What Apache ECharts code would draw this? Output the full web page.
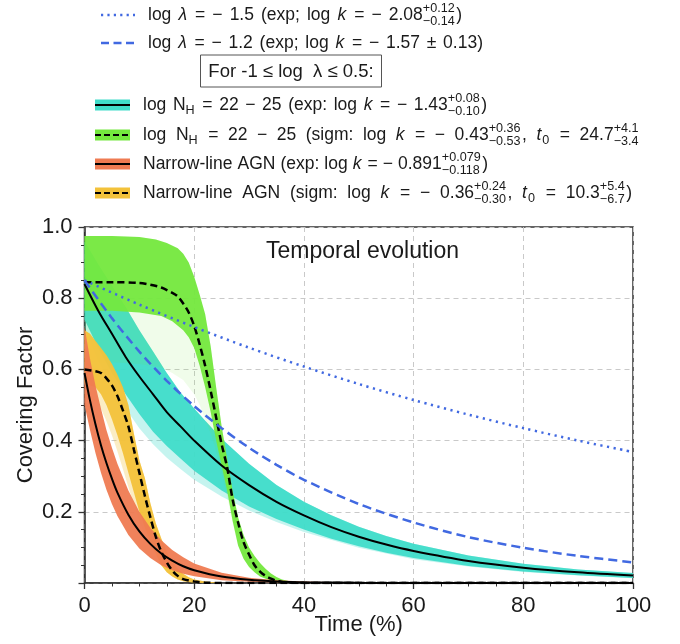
<!DOCTYPE html>
<html><head><meta charset="utf-8">
<script src="https://cdn.jsdelivr.net/npm/echarts@6/dist/echarts.min.js"></script>
<style>html,body{margin:0;padding:0;background:#fff}#c{width:680px;height:644px}</style>
</head><body><div id="c"></div>
<script>
// ---------- data (t in %, covering factor) ----------
const xTicks = [0, 20, 40, 60, 80, 100];
const yTicks = [0.2, 0.4, 0.6, 0.8, 1.0];

const blueDotted = [[0,0.85],[10,0.782],[20,0.719],[30,0.661],[40,0.608],[50,0.559],[60,0.514],[70,0.473],[80,0.435],[90,0.400],[100,0.368]];
const blueDashed = [[0,0.85],[5,0.744],[10,0.65],[15,0.568],[20,0.497],[25,0.435],[30,0.38],[35,0.332],[40,0.29],[50,0.222],[60,0.17],[70,0.129],[80,0.099],[90,0.076],[100,0.058]];

const cyanUpper = [[0,0.96],[2.5,0.895],[5,0.835],[7.5,0.775],[10,0.71],[12.5,0.65],[15,0.59],[17.5,0.535],[20,0.49],[25,0.405],[30,0.335],[35,0.275],[40,0.228],[45,0.19],[50,0.158],[55,0.132],[60,0.11],[70,0.077],[80,0.054],[90,0.038],[100,0.028]];
const cyanLower = [[0,0.74],[2.5,0.66],[5,0.59],[7.5,0.53],[10,0.475],[12.5,0.425],[15,0.385],[17.5,0.35],[20,0.315],[25,0.26],[30,0.215],[35,0.18],[40,0.15],[45,0.124],[50,0.103],[55,0.085],[60,0.07],[70,0.048],[80,0.032],[90,0.022],[100,0.014]];
const cyanFaintLower = [[0,0.72],[2.5,0.625],[5,0.55],[7.5,0.49],[10,0.435],[12.5,0.39],[15,0.352],[17.5,0.32],[20,0.29],[25,0.243],[30,0.204],[35,0.171],[40,0.143],[50,0.099],[60,0.067],[70,0.046],[80,0.031],[90,0.021],[100,0.013]];
const cyanFit = [[0,0.84],[2.5,0.765],[5,0.70],[7.5,0.635],[10,0.58],[12.5,0.53],[15,0.48],[17.5,0.44],[20,0.40],[25,0.33],[30,0.275],[35,0.228],[40,0.19],[45,0.157],[50,0.13],[55,0.108],[60,0.09],[70,0.062],[80,0.043],[90,0.03],[100,0.021]];

const greenUpper = [[0,0.975],[5,0.975],[10,0.972],[13,0.965],[15,0.955],[17,0.94],[18,0.925],[19,0.9],[20,0.86],[21,0.81],[22,0.755],[23,0.665],[24,0.55],[25,0.44],[26,0.35],[27,0.26],[28,0.185],[29,0.135],[30,0.1],[31,0.076],[32,0.056],[33,0.04],[34,0.027],[35,0.017],[36,0.01],[38,0.003],[40,0]];
const greenLower = [[0,0.765],[5,0.765],[10,0.76],[14,0.75],[16,0.735],[18,0.71],[19,0.69],[20,0.66],[21,0.61],[22,0.55],[23,0.48],[24,0.40],[25,0.33],[26,0.26],[27,0.175],[28,0.105],[29,0.068],[30,0.045],[31,0.03],[32,0.018],[34,0.006],[36,0]];
const greenFaintLower = [[0,0.62],[5,0.62],[10,0.615],[14,0.605],[16,0.59],[18,0.57],[20,0.53],[21,0.5],[22,0.46],[23,0.42],[24,0.37],[25,0.31],[26,0.245],[27,0.17],[28,0.105],[29,0.068],[30,0.045],[31,0.03],[32,0.018],[34,0.006],[36,0]];
const greenFit = [[0,0.845],[5,0.845],[10,0.843],[12,0.838],[14,0.83],[16,0.815],[17,0.805],[18,0.785],[19,0.76],[20,0.722],[21,0.67],[22,0.61],[23,0.54],[24,0.465],[25,0.39],[26,0.325],[27,0.235],[28,0.17],[29,0.115],[30,0.08],[31,0.05],[32,0.032],[33,0.02],[34,0.012],[35,0.006],[36,0.003],[38,0.001],[40,0],[100,0]];

const orangeUpper = [[0,0.72],[1,0.63],[2,0.555],[3,0.49],[4,0.43],[5,0.38],[6,0.335],[8,0.26],[10,0.2],[12,0.155],[14,0.12],[16,0.093],[18,0.072],[20,0.055],[25,0.029],[30,0.015],[35,0.008],[40,0.004],[50,0.001],[60,0]];
const orangeLower = [[0,0.50],[1,0.43],[2,0.365],[3,0.31],[4,0.262],[5,0.222],[6,0.188],[8,0.135],[10,0.097],[12,0.07],[14,0.05],[16,0.036],[18,0.026],[20,0.019],[25,0.008],[30,0.0035],[35,0.0015],[40,0.0007],[50,0],[60,0]];
const orangeFit = [[0,0.59],[1,0.513],[2,0.446],[3,0.387],[4,0.337],[5,0.293],[6,0.254],[8,0.192],[10,0.145],[12,0.11],[14,0.083],[16,0.063],[18,0.047],[20,0.036],[25,0.018],[30,0.009],[35,0.0044],[40,0.0022],[50,0.0005],[60,0],[100,0]];

const yellowUpper = [[0,0.71],[1,0.70],[2,0.68],[3,0.66],[4,0.64],[5,0.615],[6,0.585],[7,0.55],[8,0.50],[9,0.42],[10,0.345],[11,0.295],[12,0.225],[13,0.168],[14,0.125],[15,0.088],[16,0.06],[17,0.04],[18,0.026],[19,0.016],[20,0.01],[22,0.004],[25,0]];
const yellowLower = [[0,0.56],[1,0.555],[2,0.55],[3,0.53],[4,0.5],[5,0.46],[6,0.415],[7,0.365],[8,0.31],[9,0.255],[10,0.2],[11,0.155],[12,0.115],[13,0.082],[14,0.05],[15,0.03],[16,0.018],[17,0.01],[18,0.005],[20,0.001],[22,0],[25,0]];
const yellowFaintLower = [[0,0.52],[1,0.515],[2,0.51],[3,0.49],[4,0.455],[5,0.415],[6,0.37],[7,0.32],[8,0.27],[9,0.22],[10,0.17],[11,0.135],[12,0.105],[13,0.078],[14,0.05],[15,0.03],[16,0.018],[17,0.01],[18,0.005],[20,0.001],[22,0],[25,0]];
const yellowFit = [[0,0.60],[2,0.595],[3,0.59],[4,0.575],[5,0.555],[6,0.525],[7,0.485],[8,0.44],[9,0.375],[10,0.31],[11,0.245],[12,0.185],[13,0.13],[14,0.088],[15,0.058],[16,0.035],[17,0.02],[18,0.011],[20,0.004],[22,0.001],[25,0],[100,0]];

// ---------- legend text ----------
const legendRows = [
  ['log ', {i:'λ'}, ' = − 1.5 (exp; log ', {i:'k'}, ' = − 2.08', {ss:['+0.12','−0.14']}, ')'],
  ['log ', {i:'λ'}, ' = − 1.2 (exp; log ', {i:'k'}, ' = − 1.57 ± 0.13)'],
  ['log N', {sub:'H'}, ' = 22 − 25 (exp: log ', {i:'k'}, ' = − 1.43', {ss:['+0.08','−0.10']}, ')'],
  ['log N', {sub:'H'}, ' = 22 − 25 (sigm: log ', {i:'k'}, ' = − 0.43', {ss:['+0.36','−0.53']}, ', ', {i:'t'}, {sub:'0'}, ' = 24.7', {ss:['+4.1','−3.4']}],
  ['Narrow-line AGN (exp: log ', {i:'k'}, ' = − 0.891', {ss:['+0.079','−0.118']}, ')'],
  ['Narrow-line AGN (sigm: log ', {i:'k'}, ' = − 0.36', {ss:['+0.24','−0.30']}, ', ', {i:'t'}, {sub:'0'}, ' = 10.3', {ss:['+5.4','−6.7']}, ')']
];
const boxText = 'For -1 ≤ log  λ ≤ 0.5:';

// ---------- styling / layout ----------
const FF = '"Liberation Sans", Arial, Helvetica, sans-serif';
const TXT = '#1a1a1a';
const C_CYAN = '#40dcc9', C_GREEN = '#74e83e', C_ORANGE = '#ef7b52', C_YELLOW = '#f3c23a', C_BLUE = '#4169e1';
const LFS = 17.5;
const SMALL = LFS * 0.72;
const rowY = [15, 43, 105, 135, 164, 193];
const rowX = [148, 148, 143, 143, 143, 143];
const rowEnd = [462, 483, 487, 640, 488, 632];

const mctx = document.createElement('canvas').getContext('2d');
function tw(t, size, italic) { mctx.font = (italic ? 'italic ' : 'normal ') + 'normal ' + size + 'px ' + FF; return mctx.measureText(t).width; }
function txt(x, y, t, size, italic) {
  return {type:'text', x:x, y:y, z:100, style:{text:t, fontSize:size, fontFamily:FF, fontStyle: italic ? 'italic' : 'normal', fill:TXT, align:'left', verticalAlign:'middle'}};
}
function pieces(segs) {
  const out = [];
  const words = s => s.split(/( )/).forEach(w => { if (w === ' ') out.push({sp:true}); else if (w) out.push({t:w, size:LFS}); });
  segs.forEach(s => {
    if (typeof s === 'string') words(s);
    else if (s.i) out.push({t:s.i, size:LFS, italic:true, pad:1});
    else if (s.sub) out.push({t:s.sub, size:SMALL, dy:LFS * 0.3, pad:1});
    else if (s.ss) out.push({ss:s.ss, size:SMALL, pad:1.5});
  });
  out.forEach(p => {
    if (p.sp) p.w = tw(' ', LFS);
    else if (p.ss) p.w = Math.max(tw(p.ss[0], p.size), tw(p.ss[1], p.size)) + p.pad;
    else p.w = tw(p.t, p.size, p.italic) + (p.pad || 0);
  });
  return out;
}
function row(x0, y, segs, xEnd, out) {
  const ps = pieces(segs);
  const natural = ps.reduce((a, p) => a + p.w, 0);
  const nsp = ps.filter(p => p.sp).length;
  const extra = nsp ? (xEnd - x0 - natural) / nsp : 0;
  let cx = x0;
  ps.forEach(p => {
    if (p.sp) { cx += p.w + extra; return; }
    if (p.ss) {
      out.push(txt(cx, y - LFS * 0.38, p.ss[0], p.size, false));
      out.push(txt(cx, y + LFS * 0.36, p.ss[1], p.size, false));
    } else out.push(txt(cx, y + (p.dy || 0), p.t, p.size, p.italic));
    cx += p.w;
  });
}

const graphics = [];
graphics.push({type:'line', shape:{x1:101, y1:rowY[0], x2:135, y2:rowY[0]}, style:{stroke:C_BLUE, lineWidth:2.5, lineDash:[2.2,4.2]}});
graphics.push({type:'line', shape:{x1:101, y1:rowY[1], x2:135, y2:rowY[1]}, style:{stroke:C_BLUE, lineWidth:2.5, lineDash:[8,4.5]}});
const patches = [[C_CYAN, null], [C_GREEN, [6, 3]], [C_ORANGE, null], [C_YELLOW, [6, 3]]];
patches.forEach((p, k) => {
  const cy = rowY[k + 2];
  graphics.push({type:'rect', shape:{x:95, y:cy - 5.5, width:35, height:11}, style:{fill:p[0]}});
  graphics.push({type:'line', shape:{x1:95, y1:cy, x2:130, y2:cy}, style:{stroke:'#000', lineWidth:2, lineDash:p[1] || null}});
});
legendRows.forEach((segs, k) => row(rowX[k], rowY[k], segs, rowEnd[k], graphics));
graphics.push({type:'rect', shape:{x:200.5, y:55, width:181, height:32}, style:{fill:'none', stroke:'#555', lineWidth:1}});
graphics.push({type:'text', x:291, y:71.5, style:{text:boxText, fontSize:18.5, fontFamily:FF, fill:TXT, align:'center', verticalAlign:'middle'}});
graphics.push({type:'text', x:266, y:252, z:100, style:{text:'Temporal evolution', fontSize:23, fontFamily:FF, fill:TXT, align:'left', verticalAlign:'middle'}});

// ---------- series builders ----------
function band(upper, lower, color, opacity) {
  return {type:'custom', coordinateSystem:'cartesian2d', data:[[0, 0]], silent:true, animation:false, clip:true,
    renderItem: (params, api) => {
      const pts = upper.map(p => api.coord(p)).concat(lower.slice().reverse().map(p => api.coord(p)));
      return {type:'polygon', shape:{points:pts}, style:{fill:color, opacity:opacity}};
    }};
}
function curve(data, color, width, dash) {
  return {type:'line', data:data, showSymbol:false, symbol:'none', smooth:0.3, animation:false, silent:true,
    lineStyle:{color:color, width:width, type:dash || 'solid', cap:'butt'}};
}

const axisCommon = {
  axisLine:{show:true, onZero:false, lineStyle:{color:'#333', width:1.5}},
  axisTick:{show:true, inside:false, length:6, lineStyle:{color:'#333', width:1.3}},
  minorTick:{show:true, splitNumber:4, length:3.5, lineStyle:{color:'#333', width:1}},
  splitLine:{show:true, lineStyle:{color:'#c9c9c9', width:1, type:[5, 4]}},
  nameLocation:'middle',
  nameMoveOverlap:false,
  nameTextStyle:{fontSize:22, fontFamily:FF, color:TXT}
};

const option = {
  backgroundColor:'#fff',
  animation:false,
  grid:{left:84.5, top:227, width:548.5, height:356, outerBoundsMode:'none', containLabel:false,
    show:true, borderColor:'#333', borderWidth:1.5, backgroundColor:'transparent'},
  xAxis:Object.assign({type:'value', min:xTicks[0], max:xTicks[xTicks.length - 1], interval:xTicks[1] - xTicks[0],
    name:'Time (%)', nameGap:31,
    axisLabel:{fontSize:22, fontFamily:FF, color:TXT, margin:12}}, axisCommon),
  yAxis:Object.assign({type:'value', min:0, max:yTicks[yTicks.length - 1], interval:yTicks[0],
    name:'Covering Factor', nameGap:48,
    axisLabel:{fontSize:22, fontFamily:FF, color:TXT, margin:12, formatter: v => (yTicks.some(t => Math.abs(t - v) < 1e-9) ? v.toFixed(1) : '')}}, axisCommon),
  series:[
    band(cyanUpper, cyanFaintLower, C_CYAN, 0.3),
    band(cyanUpper, cyanLower, C_CYAN, 0.95),
    band(greenUpper, greenFaintLower, C_GREEN, 0.11),
    band(greenUpper, greenLower, C_GREEN, 0.95),
    band(yellowUpper, yellowFaintLower, C_YELLOW, 0.3),
    band(yellowUpper, yellowLower, C_YELLOW, 0.95),
    band(orangeUpper, orangeLower, C_ORANGE, 0.95),
    curve(cyanFit, '#000', 2),
    curve(orangeFit, '#000', 2),
    curve(greenFit, '#000', 2.5, [7, 4]),
    curve(yellowFit, '#000', 2.5, [7, 4]),
    curve(blueDashed, C_BLUE, 2.5, [9, 5]),
    curve(blueDotted, C_BLUE, 2.5, [2.2, 4.5])
  ],
  graphic:graphics
};

const chart = echarts.init(document.getElementById('c'), null, {renderer:'canvas'});
chart.setOption(option);
</script>
</body></html>
